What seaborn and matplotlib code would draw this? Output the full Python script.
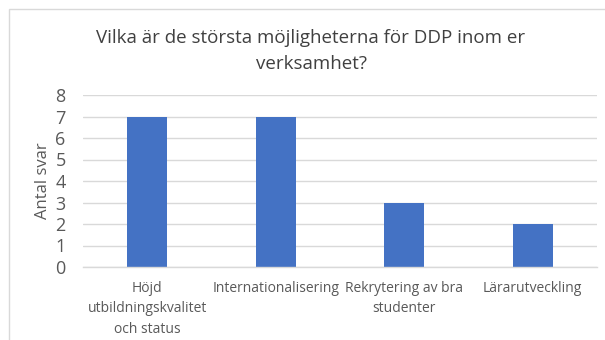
import matplotlib
matplotlib.use("Agg")
import matplotlib.pyplot as plt
import seaborn as sns
import pandas as pd
from matplotlib.patches import Rectangle

categories = ["Höjd\nutbildningskvalitet\noch status", "Internationalisering",
              "Rekrytering av bra\nstudenter", "Lärarutveckling"]
values = [7, 7, 3, 2]
yticks = [0, 1, 2, 3, 4, 5, 6, 7, 8]

sns.set_theme(style="white")
plt.rcParams["font.family"] = ["Open Sans", "DejaVu Sans"]

df = pd.DataFrame({"kategori": categories, "antal": values})

fig = plt.figure(figsize=(6.05, 3.40), dpi=100)
fig.patch.set_facecolor("white")
W, H = 605, 340
ax = fig.add_axes([83 / W, 1 - 267 / H, (597 - 83) / W, (267 - 95) / H])

sns.barplot(data=df, x="kategori", y="antal", color="#4472C4", saturation=1,
            width=0.31, linewidth=0, ax=ax)

ax.set_ylim(0, 8)
ax.set_yticks(yticks)
ax.set_xlim(-0.5, 3.5)
ax.yaxis.grid(True, color="#D9D9D9", linewidth=1)
ax.set_axisbelow(True)
for s in ["top", "right", "left"]:
    ax.spines[s].set_visible(False)
ax.spines["bottom"].set_color("#D9D9D9")
ax.spines["bottom"].set_linewidth(1)
ax.tick_params(axis="both", length=0, colors="#595959")
ax.tick_params(axis="y", labelsize=13, pad=12.5)
ax.tick_params(axis="x", labelsize=10, pad=10)
for t in ax.get_xticklabels():
    t.set_linespacing(1.5)
ax.set_xlabel("")
ax.set_ylabel("Antal svar", fontsize=12, color="#595959")
ax.yaxis.set_label_coords((51 - 83) / 514, (267 - 181) / 172)

fig.text(311 / W, 1 - 51 / H, "Vilka är de största möjligheterna för DDP inom er\nverksamhet?",
         ha="center", va="center", fontsize=13.5, color="#404040", linespacing=1.55)

# chart frame
fig.patches.append(Rectangle((9 / W, -0.1), 1.0, 1 - 9 / H + 0.1, transform=fig.transFigure,
                             fill=False, edgecolor="#D9D9D9", linewidth=1))

fig.savefig("out.png", dpi=100)
